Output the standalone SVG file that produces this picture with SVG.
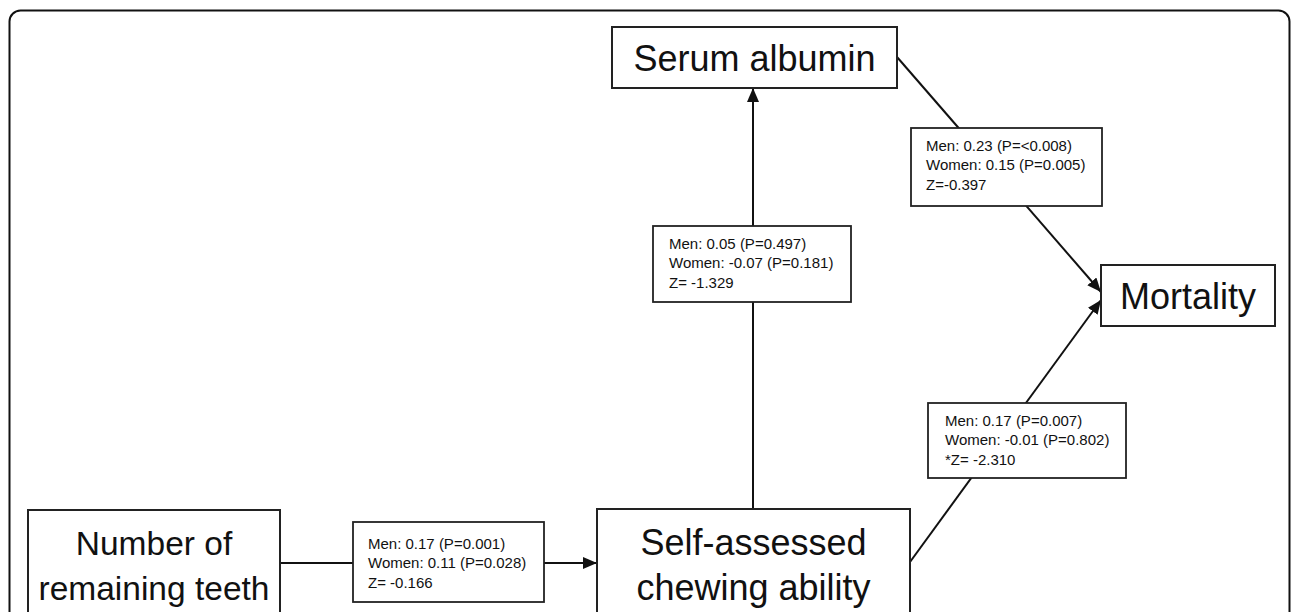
<svg xmlns="http://www.w3.org/2000/svg" width="1292" height="612" viewBox="0 0 1292 612">
<defs>
<style>
.frame{fill:none;stroke:#111;stroke-width:2}
.node rect{fill:#fff;stroke:#222;stroke-width:2}
.node text{font-family:"Liberation Sans",Arial,sans-serif;font-size:36px;fill:#111;text-anchor:middle}
.lbl rect{fill:#fff;stroke:#222;stroke-width:1.8}
.lbl text{font-family:"Liberation Sans",Arial,sans-serif;font-size:15px;fill:#111}
.conn line{stroke:#111;stroke-width:2;fill:none}
</style>
<marker id="arr" markerUnits="userSpaceOnUse" markerWidth="14" markerHeight="12" refX="14" refY="6" orient="auto">
<path d="M0,0 L14,6 L0,12 z" fill="#111"/>
</marker>
</defs>
<rect width="1292" height="612" fill="#fff"/>
<rect class="frame" x="9.5" y="10.5" width="1280" height="640" rx="11" ry="11"/>
<g id="connectors" class="conn">
<line x1="280" y1="563" x2="597" y2="563" marker-end="url(#arr)"/>
<line x1="753" y1="509" x2="753" y2="88" marker-end="url(#arr)"/>
<line x1="897" y1="57" x2="1101" y2="292" marker-end="url(#arr)"/>
<line x1="910" y1="562" x2="1101" y2="300" marker-end="url(#arr)"/>
</g>
<g id="node-teeth" class="node">
<rect x="28" y="510" width="252" height="120"/>
<text x="154" y="555" style="font-size:33.5px">Number of</text>
<text x="154" y="600" style="font-size:33.5px">remaining teeth</text>
</g>
<g id="node-chewing" class="node">
<rect x="597" y="509" width="313" height="120"/>
<text x="753.5" y="555">Self-assessed</text>
<text x="753.5" y="600">chewing ability</text>
</g>
<g id="node-albumin" class="node">
<rect x="612" y="27" width="285" height="61"/>
<text x="754.5" y="71">Serum albumin</text>
</g>
<g id="node-mortality" class="node">
<rect x="1101" y="265" width="174" height="61"/>
<text x="1188" y="309">Mortality</text>
</g>
<g id="label-teeth-chewing" class="lbl">
<rect x="353" y="522" width="191" height="80"/>
<text x="368" y="549">Men: 0.17 (P=0.001)</text>
<text x="368" y="568">Women: 0.11 (P=0.028)</text>
<text x="368" y="588">Z= -0.166</text>
</g>
<g id="label-chewing-albumin" class="lbl">
<rect x="653" y="226" width="198" height="76"/>
<text x="669" y="249">Men: 0.05 (P=0.497)</text>
<text x="669" y="268">Women: -0.07 (P=0.181)</text>
<text x="669" y="288">Z= -1.329</text>
</g>
<g id="label-albumin-mortality" class="lbl">
<rect x="911" y="128" width="191" height="78"/>
<text x="926" y="151">Men: 0.23 (P=&lt;0.008)</text>
<text x="926" y="170">Women: 0.15 (P=0.005)</text>
<text x="926" y="190">Z=-0.397</text>
</g>
<g id="label-chewing-mortality" class="lbl">
<rect x="928" y="403" width="198" height="75"/>
<text x="945" y="426">Men: 0.17 (P=0.007)</text>
<text x="945" y="445">Women: -0.01 (P=0.802)</text>
<text x="945" y="465">*Z= -2.310</text>
</g>
</svg>
